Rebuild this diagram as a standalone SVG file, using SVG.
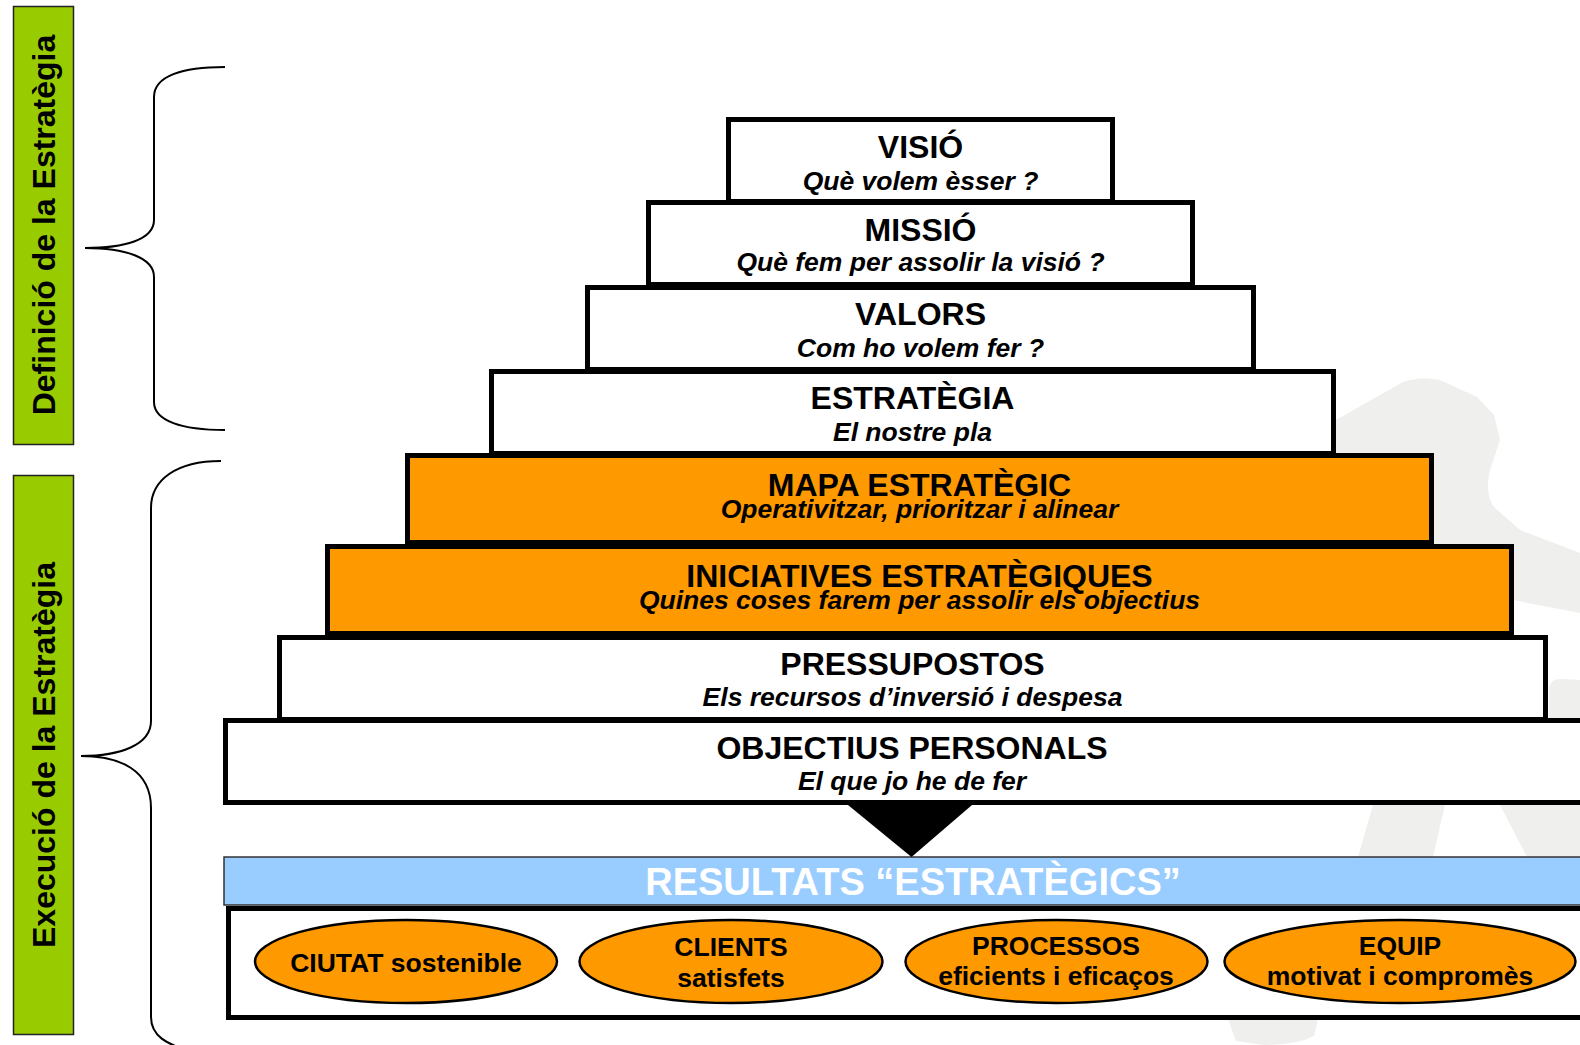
<svg xmlns="http://www.w3.org/2000/svg" width="1580" height="1045" viewBox="0 0 1580 1045">
<style>
.box{stroke:#000;stroke-width:5}
.w{fill:#fff}
.o{fill:#FF9900}
.t{font-family:"Liberation Sans",Arial,sans-serif;font-weight:bold;font-size:32px;fill:#000;text-anchor:middle}
.s{font-family:"Liberation Sans",Arial,sans-serif;font-weight:bold;font-style:italic;font-size:26.5px;fill:#000;text-anchor:middle}
.e{font-family:"Liberation Sans",Arial,sans-serif;font-weight:bold;font-size:26.5px;fill:#000;text-anchor:middle}
.ell{fill:#FF9900;stroke:#000;stroke-width:2.5}
.side{fill:#99CC00;stroke:#222;stroke-width:1.5}
.brace{fill:none;stroke:#000;stroke-width:2}
.sil{fill:#EFEFED}
</style>
<rect width="1580" height="1045" fill="#fff"/>
<g id="silhouette">
<path class="sil" d="M1336,420 L1403,382 Q1420,376 1440,380 L1477,397 L1494,415 L1500,440 L1490,470 Q1484,495 1495,508 L1520,530 L1580,553 L1580,613 L1513,600 L1400,600 L1336,600 Z"/>
<path class="sil" d="M1549,718 L1549,688 Q1551,678 1562,679 L1580,680 L1580,718 Z"/>
<path class="sil" d="M1373,805 L1445,805 L1433,857 L1358,857 Z"/>
<path class="sil" d="M1500,805 L1580,805 L1580,857 L1527,857 Z"/>
<path class="sil" d="M1228,1019 L1318,1019 L1314,1036 Q1296,1045 1264,1045 L1236,1041 Z"/>
</g>
<g id="side-definicio">
<rect class="side" x="13.5" y="6.5" width="60" height="438"/>
<text class="t" transform="translate(55,225) rotate(-90)">Definició de la Estratègia</text>
</g>
<g id="side-execucio">
<rect class="side" x="13.5" y="475.5" width="60" height="559"/>
<text class="t" transform="translate(55,755) rotate(-90)">Execució de la Estratègia</text>
</g>
<g id="objectius">
<rect class="box w" x="225.5" y="720.5" width="1400" height="82"/>
<text class="t" x="912" y="759">OBJECTIUS PERSONALS</text>
<text class="s" x="912" y="790">El que jo he de fer</text>
</g>
<g id="pressupostos">
<rect class="box w" x="279.5" y="637.5" width="1266" height="82"/>
<text class="t" x="912.5" y="675">PRESSUPOSTOS</text>
<text class="s" x="912.5" y="706">Els recursos d’inversió i despesa</text>
</g>
<g id="iniciatives">
<rect class="box o" x="327.5" y="546.5" width="1184" height="87"/>
<text class="t" x="919.5" y="587">INICIATIVES ESTRATÈGIQUES</text>
<text class="s" x="919.5" y="609">Quines coses farem per assolir els objectius</text>
</g>
<g id="mapa">
<rect class="box o" x="407.5" y="455.5" width="1024" height="87"/>
<text class="t" x="919.5" y="496">MAPA ESTRATÈGIC</text>
<text class="s" x="919.5" y="517.5">Operativitzar, prioritzar i alinear</text>
</g>
<g id="estrategia">
<rect class="box w" x="491.5" y="371.5" width="842" height="82"/>
<text class="t" x="912.5" y="409">ESTRATÈGIA</text>
<text class="s" x="912.5" y="441">El nostre pla</text>
</g>
<g id="valors">
<rect class="box w" x="587.5" y="287.5" width="666" height="82"/>
<text class="t" x="920.5" y="324.5">VALORS</text>
<text class="s" x="920.5" y="356.5">Com ho volem fer ?</text>
</g>
<g id="missio">
<rect class="box w" x="648.5" y="202.5" width="544" height="82"/>
<text class="t" x="920.5" y="241">MISSIÓ</text>
<text class="s" x="920.5" y="271">Què fem per assolir la visió ?</text>
</g>
<g id="visio">
<rect class="box w" x="728.5" y="119.5" width="384" height="82"/>
<text class="t" x="920.5" y="157.5">VISIÓ</text>
<text class="s" x="920.5" y="190">Què volem èsser ?</text>
</g>
<g id="resultats">
<rect x="224" y="857" width="1400" height="48" fill="#99CCFF" stroke="#333" stroke-width="1.5"/>
<text x="913" y="894.5" font-family="Liberation Sans, Arial, sans-serif" font-weight="bold" font-size="38" fill="#fff" text-anchor="middle">RESULTATS “ESTRATÈGICS”</text>
</g>
<g id="resultats-box">
<rect class="box w" x="228.5" y="908.5" width="1400" height="109"/>
</g>
<g id="ciutat">
<ellipse class="ell" cx="406" cy="961.5" rx="151" ry="41.5"/>
<text class="e" x="406" y="971.5">CIUTAT sostenible</text>
</g>
<g id="clients">
<ellipse class="ell" cx="731" cy="961.5" rx="151.5" ry="41.5"/>
<text class="e" x="731" y="956">CLIENTS</text>
<text class="e" x="731" y="987">satisfets</text>
</g>
<g id="processos">
<ellipse class="ell" cx="1056.5" cy="961.5" rx="151" ry="41.5"/>
<text class="e" x="1056" y="955">PROCESSOS</text>
<text class="e" x="1056" y="985">eficients i eficaços</text>
</g>
<g id="equip">
<ellipse class="ell" cx="1400" cy="961.5" rx="175.5" ry="41.5"/>
<text class="e" x="1400" y="955">EQUIP</text>
<text class="e" x="1400" y="985">motivat i compromès</text>
</g>
<g id="connectors">
<path class="brace" d="M225,67 C182,67 154,76 154,97 L154,220 C154,240 124,248 85,248 C124,248 154,257 154,277 L154,402 C154,421 182,430 225,430"/>
<path class="brace" d="M221,461 C176,461 151,480 151,508 L151,721 C151,745 120,756 81,756 C120,756 151,770 151,808 L151,1017 C151,1035 165,1045 195,1052"/>
<polygon points="848,805 972,805 911.5,857" fill="#000"/>
</g>
</svg>
